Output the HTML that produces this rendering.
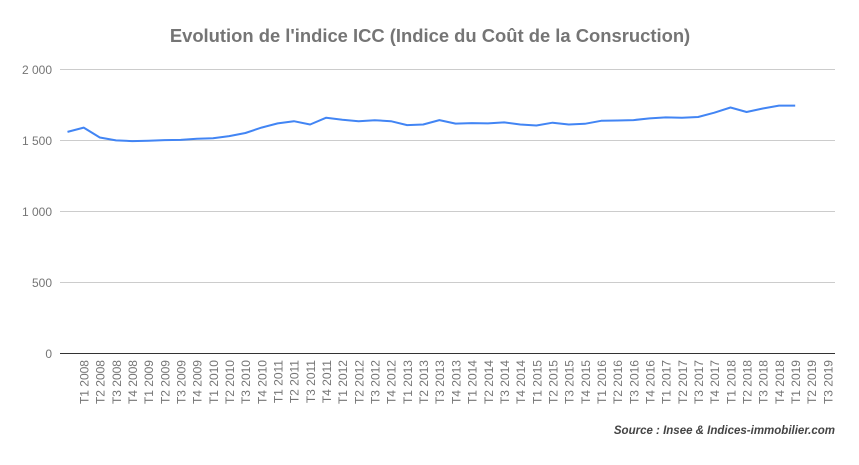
<!DOCTYPE html>
<html><head><meta charset="utf-8"><style>body{margin:0;background:#fff}</style></head><body>
<svg width="859" height="460" xmlns="http://www.w3.org/2000/svg" font-family="Liberation Sans, Arial, sans-serif">
<rect width="859" height="460" fill="#fff"/>
<text x="430" y="42" text-anchor="middle" font-size="18.4" font-weight="bold" fill="#757575">Evolution de l'indice ICC (Indice du Coût de la Consruction)</text>
<g stroke="#cccccc" stroke-width="1">
<line x1="60" x2="835" y1="69.5" y2="69.5"/><line x1="60" x2="835" y1="140.5" y2="140.5"/><line x1="60" x2="835" y1="211.5" y2="211.5"/><line x1="60" x2="835" y1="282.5" y2="282.5"/>
</g>
<line x1="60" x2="835" y1="353.5" y2="353.5" stroke="#333" stroke-width="1"/>
<g font-size="12" fill="#757575" text-anchor="end">
<text x="52" y="74">2 000</text><text x="52" y="145">1 500</text><text x="52" y="216">1 000</text><text x="52" y="287">500</text><text x="52" y="358">0</text>
</g>
<g id="xl" font-size="12" fill="#757575" text-anchor="end"></g>
<polyline id="ln" fill="none" stroke="#4285f4" stroke-width="2" stroke-linejoin="round"/>
<text x="835" y="434" text-anchor="end" font-size="11.5" font-weight="bold" font-style="italic" fill="#444">Source : Insee &amp; Indices-immobilier.com</text>
</svg>
<script>
var d=[1560,1590,1520,1500,1495,1498,1502,1503,1512,1515,1530,1552,1590,1620,1635,1612,1660,1645,1635,1642,1635,1608,1612,1643,1618,1622,1620,1627,1612,1605,1625,1612,1617,1638,1640,1643,1655,1662,1660,1665,1695,1732,1700,1725,1745,1745];
var p=d.map(function(v,i){return (67.5+16.17*i).toFixed(1)+","+(353-v*0.14175).toFixed(1)}).join(" ");
document.getElementById("ln").setAttribute("points",p);
var g=document.getElementById("xl"),s="";
for(var i=0;i<47;i++){var y=2008+Math.floor(i/4),q=i%4+1,x=84+16.17*i;
s+='<text transform="translate('+(x+4.5).toFixed(1)+',360) rotate(-90)">T'+q+' '+y+'</text>';}
g.innerHTML=s;
</script>
</body></html>
